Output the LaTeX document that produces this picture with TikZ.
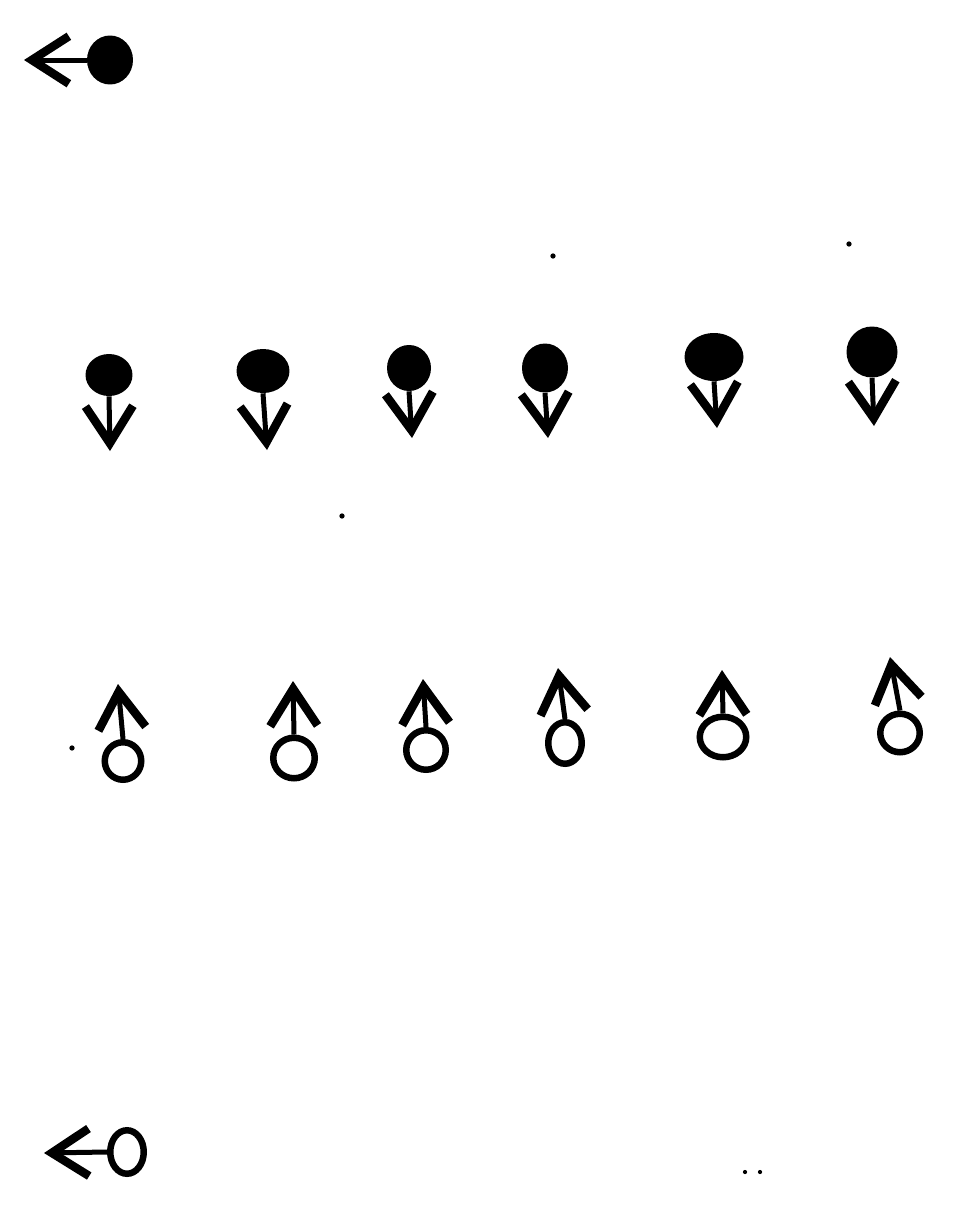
\documentclass[tikz,border=0pt]{standalone}
\usetikzlibrary{arrows.meta,shapes.geometric}

\begin{document}
\begin{tikzpicture}[x=0.02cm,y=-0.02cm,full/.style={ellipse,fill=black,inner sep=0pt},hollow/.style={ellipse,draw,line width=0.13cm,fill=white,inner sep=0pt},stem/.style={line width=0.1cm,-{Straight Barb[length=0.74cm,width=0.95cm,line width=0.17cm]}}]
\useasboundingbox (0,0) rectangle (955,1210);
% left-pointing symbols
\node[full,minimum width=0.92cm,minimum height=0.98cm] (fl) at (110,60) {};
\coordinate (tfl) at (24,60);
\draw[stem] (fl.west) -- (tfl);
\node[hollow,minimum width=0.67cm,minimum height=0.87cm] (hl) at (127,1152) {};
\coordinate (thl) at (44,1153);
\draw[stem] (hl.west) -- (thl);
% filled, pointing down
\node[full,minimum width=0.94cm,minimum height=0.84cm] (f1) at (109,375) {};
\node[full,minimum width=1.06cm,minimum height=0.88cm] (f2) at (263,371) {};
\node[full,minimum width=0.88cm,minimum height=0.92cm] (f3) at (409,368) {};
\node[full,minimum width=0.92cm,minimum height=0.98cm] (f4) at (545,368) {};
\node[full,minimum width=1.18cm,minimum height=0.96cm] (f5) at (714,357) {};
\node[full,minimum width=1.02cm,minimum height=1.02cm] (f6) at (872,352) {};
\coordinate (tf1) at (110,451);
\coordinate (tf2) at (267,450);
\coordinate (tf3) at (412,438);
\coordinate (tf4) at (548,438);
\coordinate (tf5) at (717,428);
\coordinate (tf6) at (874,426);
\draw[stem] (f1.south) -- (tf1);
\draw[stem] (f2.south) -- (tf2);
\draw[stem] (f3.south) -- (tf3);
\draw[stem] (f4.south) -- (tf4);
\draw[stem] (f5.south) -- (tf5);
\draw[stem] (f6.south) -- (tf6);
% open, pointing up
\node[hollow,minimum width=0.73cm,minimum height=0.75cm] (h1) at (123,761) {};
\node[hollow,minimum width=0.83cm,minimum height=0.81cm] (h2) at (294,758) {};
\node[hollow,minimum width=0.79cm,minimum height=0.79cm] (h3) at (426,750) {};
\node[hollow,minimum width=0.67cm,minimum height=0.83cm] (h4) at (565,743) {};
\node[hollow,minimum width=0.93cm,minimum height=0.81cm] (h5) at (723,737) {};
\node[hollow,minimum width=0.79cm,minimum height=0.77cm] (h6) at (900,733) {};
\coordinate (th1) at (118,684);
\coordinate (th2) at (293,681);
\coordinate (th3) at (423,679);
\coordinate (th4) at (558,668);
\coordinate (th5) at (722,670);
\coordinate (th6) at (890,657);
\draw[stem] (h1.north) -- (th1);
\draw[stem] (h2.north) -- (th2);
\draw[stem] (h3.north) -- (th3);
\draw[stem] (h4.north) -- (th4);
\draw[stem] (h5.north) -- (th5);
\draw[stem] (h6.north) -- (th6);
% specks
\fill (553,256) circle[radius=1.5pt] (849,244) circle[radius=1.5pt] (342,516) circle[radius=1.5pt] (72,748) circle[radius=1.5pt] (745,1172) circle[radius=1.2pt] (760,1172) circle[radius=1.2pt];
\end{tikzpicture}
\end{document}
